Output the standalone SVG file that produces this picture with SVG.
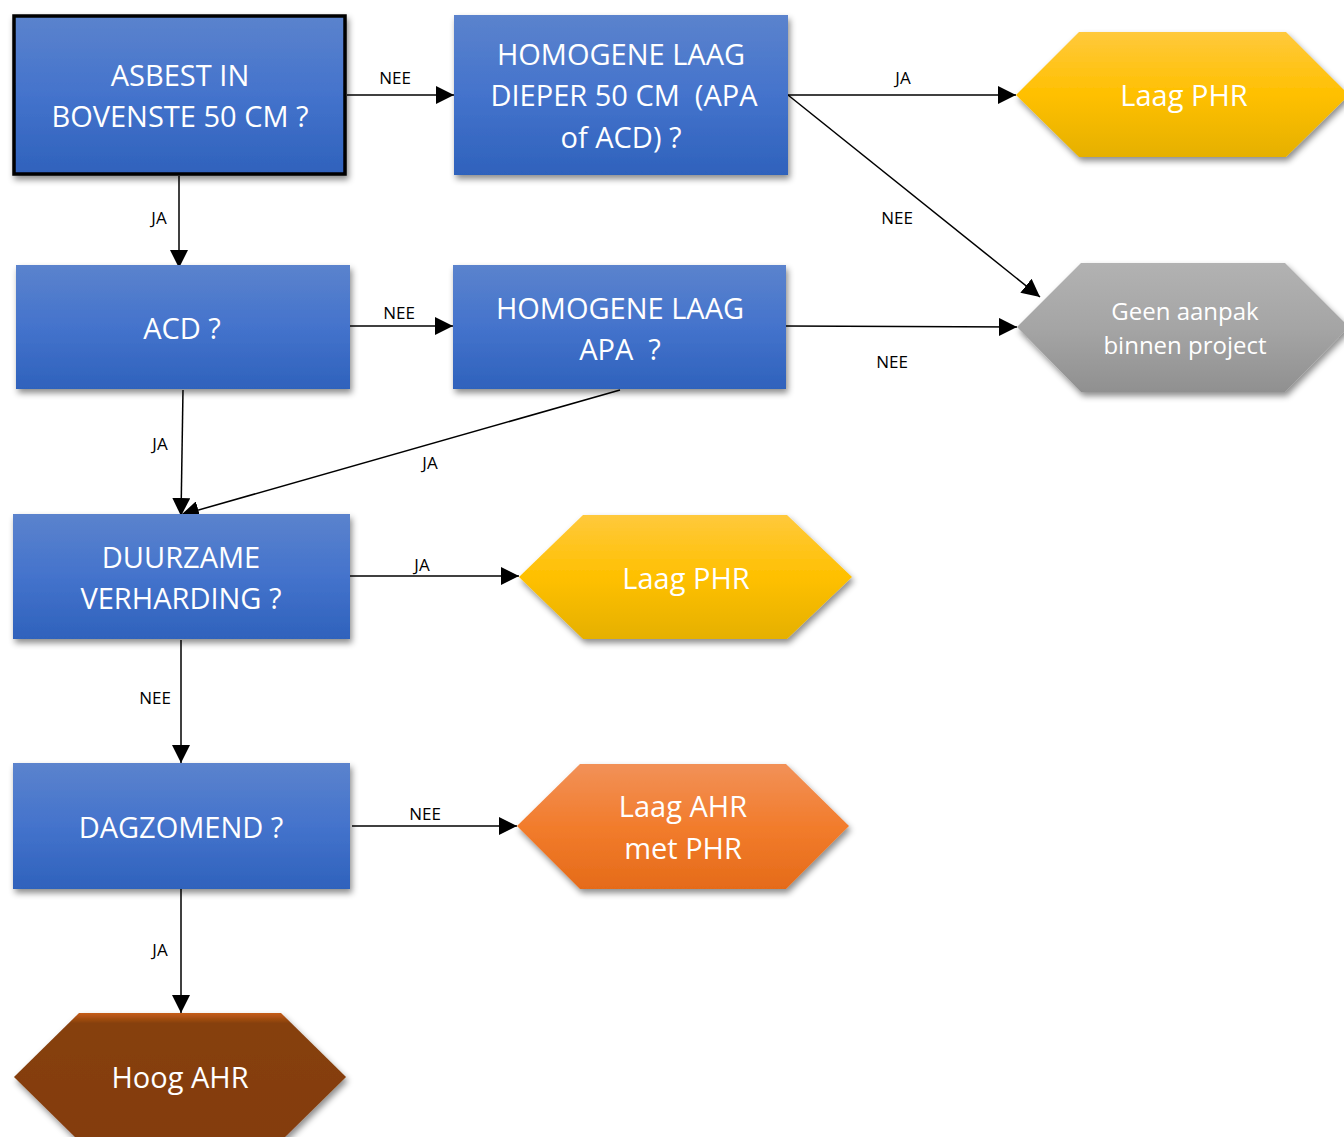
<svg xmlns="http://www.w3.org/2000/svg" width="1344" height="1137" viewBox="0 0 1344 1137">
<defs>
<linearGradient id="gBlue" x1="0" y1="0" x2="0" y2="1"><stop offset="0" stop-color="#5b83cd"/><stop offset="0.5" stop-color="#4473cc"/><stop offset="1" stop-color="#2f62bc"/></linearGradient>
<linearGradient id="gYel" x1="0" y1="0" x2="0" y2="1"><stop offset="0" stop-color="#ffc93c"/><stop offset="0.5" stop-color="#ffc000"/><stop offset="1" stop-color="#e5b000"/></linearGradient>
<linearGradient id="gGray" x1="0" y1="0" x2="0" y2="1"><stop offset="0" stop-color="#b2b2b2"/><stop offset="0.5" stop-color="#a5a5a5"/><stop offset="1" stop-color="#909090"/></linearGradient>
<linearGradient id="gOr" x1="0" y1="0" x2="0" y2="1"><stop offset="0" stop-color="#f29158"/><stop offset="0.5" stop-color="#f27c2c"/><stop offset="1" stop-color="#e56b19"/></linearGradient>
<linearGradient id="gBr" x1="0" y1="0" x2="0" y2="1"><stop offset="0" stop-color="#c65c16"/><stop offset="0.08" stop-color="#86400d"/><stop offset="1" stop-color="#843c0c"/></linearGradient>
<filter id="sh" x="-10%" y="-10%" width="130%" height="140%"><feDropShadow dx="2" dy="4" stdDeviation="3" flood-color="#000" flood-opacity="0.45"/></filter>
<marker id="ah" viewBox="0 0 10 10" refX="10" refY="5" markerWidth="18" markerHeight="18" markerUnits="userSpaceOnUse" orient="auto"><path d="M0,0 L10,5 L0,10 z" fill="#000"/></marker>
<style>
.box{fill:url(#gBlue);filter:url(#sh)}
.t{font-family:"Open Sans","Noto Sans",sans-serif;fill:#fff;text-anchor:middle;font-size:29px;white-space:pre}
.ts{font-family:"Open Sans","Noto Sans",sans-serif;fill:#fff;text-anchor:middle;font-size:24px}
.c{stroke:#000;stroke-width:1.5;fill:none;marker-end:url(#ah)}
.l{font-family:"Open Sans","Noto Sans",sans-serif;fill:#000;text-anchor:middle;font-size:17px}
</style>
</defs>
<g id="connectors">
<line class="c" x1="347" y1="95" x2="454" y2="95"/>
<line class="c" x1="179" y1="176" x2="179" y2="268"/>
<line class="c" x1="788" y1="95" x2="1016" y2="95"/>
<line class="c" x1="788" y1="95" x2="1040" y2="297"/>
<line class="c" x1="350" y1="326" x2="453" y2="326"/>
<line class="c" x1="786" y1="326" x2="1017" y2="327"/>
<line class="c" x1="183" y1="390" x2="181" y2="516"/>
<line class="c" x1="620" y1="390" x2="181" y2="515"/>
<line class="c" x1="350" y1="576" x2="519" y2="576"/>
<line class="c" x1="181" y1="640" x2="181" y2="763"/>
<line class="c" x1="352" y1="826" x2="517" y2="826"/>
<line class="c" x1="181" y1="889" x2="181" y2="1013"/>
<text class="l" x="395" y="84">NEE</text>
<text class="l" x="159" y="224">JA</text>
<text class="l" x="903" y="84">JA</text>
<text class="l" x="897" y="224">NEE</text>
<text class="l" x="399" y="319">NEE</text>
<text class="l" x="892" y="368">NEE</text>
<text class="l" x="160" y="450">JA</text>
<text class="l" x="430" y="469">JA</text>
<text class="l" x="422" y="571">JA</text>
<text class="l" x="155" y="704">NEE</text>
<text class="l" x="425" y="820">NEE</text>
<text class="l" x="160" y="956">JA</text>
</g>
<g id="n1"><rect class="box" x="14" y="16" width="331" height="158" stroke="#000" stroke-width="3.5"/>
<text class="t" x="180" y="86">ASBEST IN</text><text class="t" x="180" y="127">BOVENSTE 50 CM ?</text></g>
<g id="n2"><rect class="box" x="454" y="15" width="334" height="160"/>
<text class="t" x="621" y="65">HOMOGENE LAAG</text><text class="t" x="624" y="106" xml:space="preserve">DIEPER 50 CM  (APA</text><text class="t" x="621" y="148">of ACD) ?</text></g>
<g id="n3"><polygon points="1016,95 1079,32 1286,32 1349,95 1286,157 1079,157" fill="url(#gYel)" filter="url(#sh)"/>
<text class="t" x="1184" y="106">Laag PHR</text></g>
<g id="n4"><rect class="box" x="16" y="265" width="334" height="124"/>
<text class="t" x="182" y="339">ACD ?</text></g>
<g id="n5"><rect class="box" x="453" y="265" width="333" height="124"/>
<text class="t" x="620" y="319">HOMOGENE LAAG</text><text class="t" x="620" y="360" xml:space="preserve">APA  ?</text></g>
<g id="n6"><polygon points="1017,327 1081,263 1285,263 1349,327 1285,392 1081,392" fill="url(#gGray)" filter="url(#sh)"/>
<text class="ts" x="1185" y="320">Geen aanpak</text><text class="ts" x="1185" y="354">binnen project</text></g>
<g id="n7"><rect class="box" x="13" y="514" width="337" height="125"/>
<text class="t" x="181" y="568">DUURZAME</text><text class="t" x="181" y="609">VERHARDING ?</text></g>
<g id="n8"><polygon points="519,577 583,515 787,515 852,577 787,639 583,639" fill="url(#gYel)" filter="url(#sh)"/>
<text class="t" x="686" y="589">Laag PHR</text></g>
<g id="n9"><rect class="box" x="13" y="763" width="337" height="126"/>
<text class="t" x="181" y="838">DAGZOMEND ?</text></g>
<g id="n10"><polygon points="517,826 580,764 786,764 849,826 786,889 580,889" fill="url(#gOr)" filter="url(#sh)"/>
<text class="t" x="683" y="817">Laag AHR</text><text class="t" x="683" y="859">met PHR</text></g>
<g id="n11"><polygon points="14,1077 79,1013 281,1013 346,1077 281,1141 79,1141" fill="url(#gBr)" filter="url(#sh)"/>
<text class="t" x="180" y="1088">Hoog AHR</text></g>
</svg>
